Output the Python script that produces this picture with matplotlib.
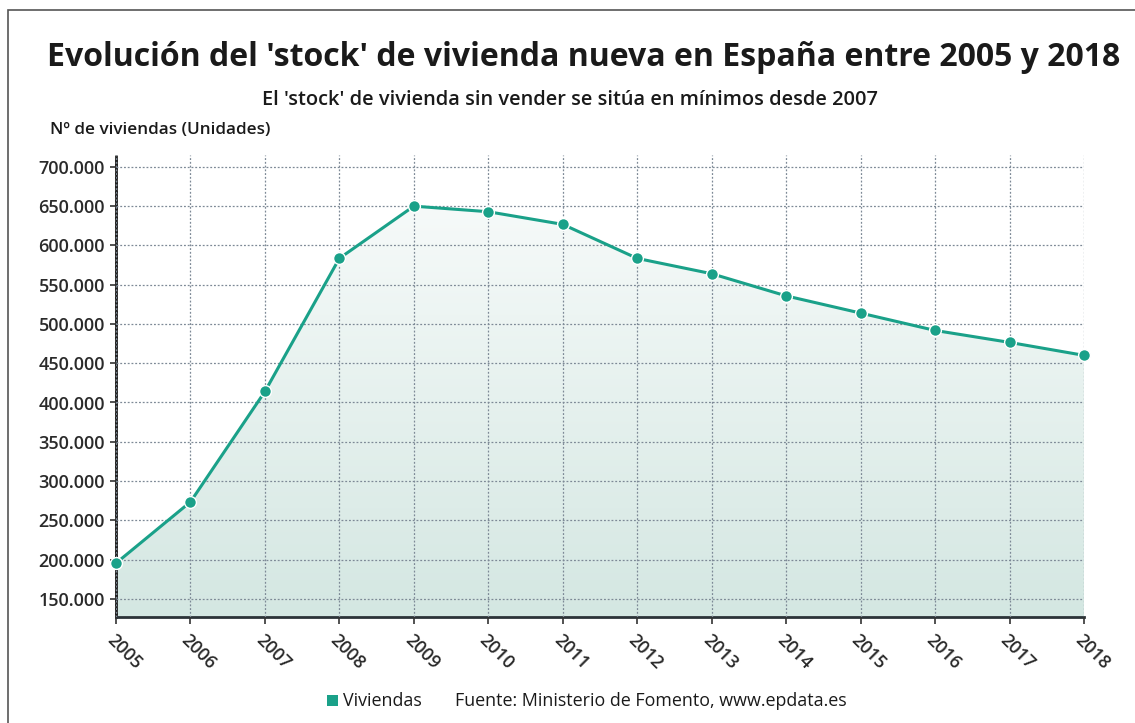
import numpy as np
import matplotlib
matplotlib.use("Agg")
import matplotlib.pyplot as plt
from matplotlib.patches import Polygon, Rectangle
from matplotlib.ticker import FuncFormatter

years = [2005, 2006, 2007, 2008, 2009, 2010, 2011, 2012, 2013, 2014, 2015, 2016, 2017, 2018]
viviendas = [195500, 273500, 414000, 583500, 649900, 642800, 626700, 583400, 563900, 535700, 513800, 491700, 476500, 460000]
yticks = [150000, 200000, 250000, 300000, 350000, 400000, 450000, 500000, 550000, 600000, 650000, 700000]

teal = "#1aa189"
plt.rcParams['font.family'] = ['Open Sans', 'DejaVu Sans']

fig = plt.figure(figsize=(11.35, 7.23), dpi=100)
fig.patch.set_facecolor("white")
# thin frame around the graphic
fig.add_artist(Rectangle((8 / 1135, -0.01), 1.1, 1 - 10 / 723 + 0.01, transform=fig.transFigure,
                         fill=False, edgecolor="#555555", linewidth=1.2))

ax = fig.add_axes([116 / 1135, 1 - 617 / 723, (1084 - 116) / 1135, (617 - 155) / 723])
ymin, ymax = 127000, 715000
ax.set_xlim(years[0], years[-1])
ax.set_ylim(ymin, ymax)

# gradient fill under the line
grad = np.linspace(0, 1, 256).reshape(-1, 1)
cmap = matplotlib.colors.LinearSegmentedColormap.from_list("g", ["#f6faf9", "#d4e7e2"])
img = ax.imshow(grad, extent=[years[0], years[-1], ymin, max(viviendas)], aspect="auto",
                cmap=cmap, origin="upper", zorder=1, vmin=0, vmax=1)
poly = Polygon(list(zip(years, viviendas)) + [(years[-1], ymin), (years[0], ymin)],
               closed=True, facecolor="none", edgecolor="none")
ax.add_patch(poly)
img.set_clip_path(poly)

ax.plot(years, viviendas, color=teal, linewidth=2.2, zorder=4, clip_on=False)
ax.plot(years, viviendas, "o", color=teal, markersize=8.5, markeredgecolor="white",
        markeredgewidth=1.0, zorder=5, clip_on=False)

ax.set_xticks(years)
ax.set_yticks(yticks)
ax.yaxis.set_major_formatter(FuncFormatter(lambda v, p: f"{int(v):,}".replace(",", ".")))
ax.grid(True, linestyle=(0, (1.5, 1.5)), color="#7d8996", linewidth=0.9, zorder=2)
ax.set_axisbelow(False)
for s in ["top", "right"]:
    ax.spines[s].set_visible(False)
ax.spines["left"].set_linestyle((0, (1, 0.6)))
ax.spines["left"].set_linewidth(2.0)
ax.spines["left"].set_color("#222222")
ax.spines["bottom"].set_linewidth(2.0)
ax.spines["bottom"].set_color("#2b3338")
ax.tick_params(axis="y", length=4, width=1.2, colors="#333333", labelsize=13, pad=4)
ax.tick_params(axis="x", length=5, width=1.2, colors="#333333", labelsize=13, pad=5)
for lab in ax.get_yticklabels():
    lab.set_color("#2a2a2a")
    lab.set_fontweight("semibold")
for lab in ax.get_xticklabels():
    lab.set_rotation(-45)
    lab.set_ha("left")
    lab.set_va("top")
    lab.set_rotation_mode("anchor")
    lab.set_color("#2a2a2a")
    lab.set_fontweight("semibold")

fig.text(584 / 1135, 1 - 58 / 723, "Evolución del 'stock' de vivienda nueva en España entre 2005 y 2018",
         ha="center", va="center", fontsize=23, fontweight="bold", color="#1a1a1a")
fig.text(570 / 1135, 1 - 100 / 723, "El 'stock' de vivienda sin vender se sitúa en mínimos desde 2007",
         ha="center", va="center", fontsize=14.4, fontweight="semibold", color="#1a1a1a")
fig.text(50 / 1135, 1 - 130 / 723, "Nº de viviendas (Unidades)", ha="left", va="center",
         fontsize=12.3, fontweight="semibold", color="#1a1a1a")

fig.add_artist(Rectangle((327 / 1135, 1 - 706 / 723), 11 / 1135, 11 / 723, transform=fig.transFigure,
                         facecolor=teal, edgecolor="none"))
fig.text(343 / 1135, 1 - 701 / 723, "Viviendas", ha="left", va="center", fontsize=12.9, color="#1a1a1a")
fig.text(455 / 1135, 1 - 701 / 723, "Fuente: Ministerio de Fomento, www.epdata.es", ha="left", va="center",
         fontsize=12.9, color="#1a1a1a")

fig.savefig("out.png", dpi=100, facecolor="white")
